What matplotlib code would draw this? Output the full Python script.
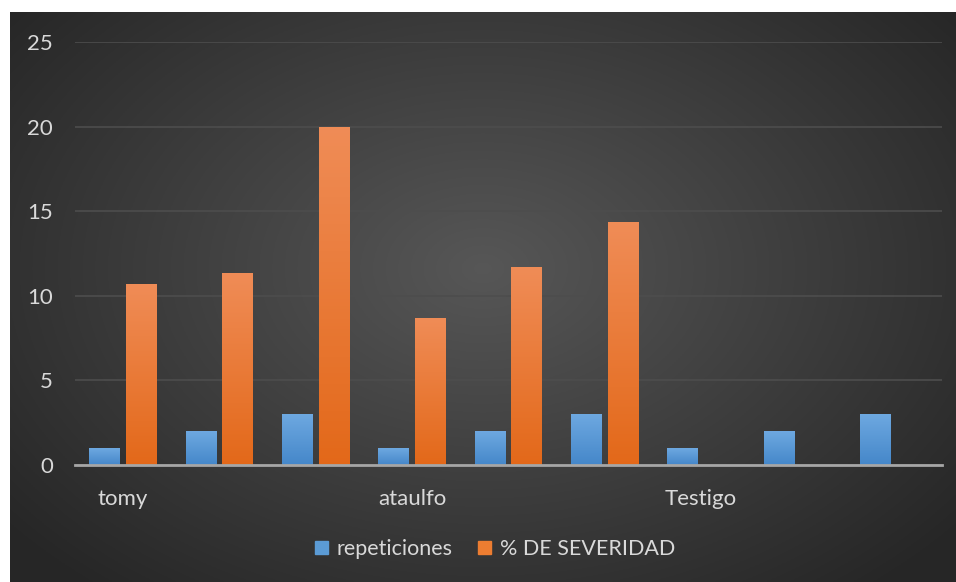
import numpy as np
import matplotlib.pyplot as plt
from matplotlib.patches import Rectangle

plt.rcParams['font.family'] = ['Lato', 'DejaVu Sans']

# data
positions = list(range(9))
repeticiones = [1, 2, 3, 1, 2, 3, 1, 2, 3]
severidad = [10.7, 11.35, 20.0, 8.7, 11.7, 14.35, 0, 0, 0]
group_labels = ['tomy', 'ataulfo', 'Testigo']
group_pos = [0, 3, 6]

W, H = 956, 582
fig = plt.figure(figsize=(W / 100, H / 100), dpi=100)
fig.patch.set_facecolor('white')

# dark chart area with a soft radial gradient
bg = fig.add_axes([10 / W, 0, 1 - 10 / W, 1 - 12 / H])
yy, xx = np.mgrid[0:1:300j, 0:1:500j]
d = np.sqrt(((xx - 0.5) / 0.75) ** 2 + ((yy - 0.45) / 0.85) ** 2)
shade = np.clip(0.34 - 0.22 * d, 0.15, 0.34)
bg.imshow(np.dstack([shade, shade, shade]), aspect='auto', extent=[0, 1, 0, 1])
bg.set_axis_off()

ax = fig.add_axes([75 / W, 117 / H, 867 / W, 423 / H])
ax.set_facecolor('none')

bw = 0.32
gap = 0.06
b1 = ax.bar([p - bw / 2 - gap / 2 for p in positions], repeticiones, bw, color='#5B9BD5', zorder=3)
b2 = ax.bar([p + bw / 2 + gap / 2 for p in positions], severidad, bw, color='#ED7D31', zorder=3)

# vertical gradient inside bars
def fill_grad(bars, top, bottom):
    grad = np.linspace(0, 1, 100).reshape(-1, 1)
    top = np.array(top)
    bottom = np.array(bottom)
    img = top + (bottom - top) * grad[..., None]
    img = img.reshape(100, 1, 3)
    for r in bars:
        if r.get_height() <= 0:
            continue
        x0, y0 = r.get_x(), r.get_y()
        im = ax.imshow(img, aspect='auto', zorder=4,
                       extent=[x0, x0 + r.get_width(), y0, y0 + r.get_height()])
        im.set_clip_path(r)

fill_grad(b1, (0.43, 0.66, 0.88), (0.27, 0.53, 0.79))
fill_grad(b2, (0.94, 0.55, 0.34), (0.89, 0.41, 0.10))

ax.set_xlim(-0.5, 8.5)
ax.set_ylim(0, 25)
ax.set_yticks([0, 5, 10, 15, 20, 25])
ax.grid(axis='y', color='#4d4d4d', linewidth=1.2, zorder=0)
ax.set_axisbelow(True)
for s in ['top', 'right', 'left']:
    ax.spines[s].set_visible(False)
ax.spines['bottom'].set_color('#a6a6a6')
ax.spines['bottom'].set_linewidth(2)
ax.spines['bottom'].set_zorder(5)
ax.tick_params(axis='y', length=0, pad=16, labelsize=16, labelcolor='#d9d9d9')
ax.set_xticks(group_pos)
ax.set_xticklabels(group_labels)
ax.tick_params(axis='x', length=0, pad=17, labelsize=16, labelcolor='#d9d9d9')

handles = [Rectangle((0, 0), 1, 1, color='#5B9BD5'), Rectangle((0, 0), 1, 1, color='#ED7D31')]
leg = fig.legend(handles, ['repeticiones', '% DE SEVERIDAD'], loc='center',
                 bbox_to_anchor=(495 / W, 1 - 549 / H), ncol=2, frameon=False,
                 fontsize=15.5, handlelength=0.6, handleheight=0.6, handletextpad=0.4,
                 columnspacing=1.2)
for t in leg.get_texts():
    t.set_color('#d9d9d9')

fig.savefig('out.png', dpi=100)
